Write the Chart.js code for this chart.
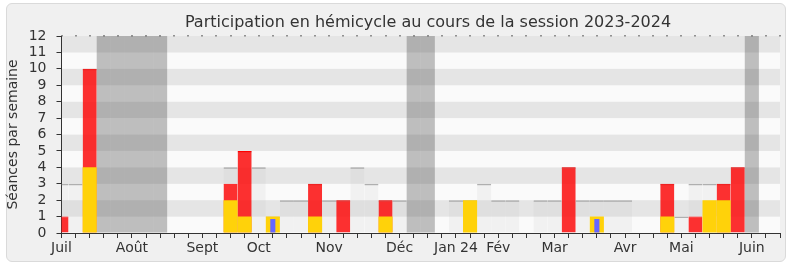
<!DOCTYPE html>
<html><head><meta charset="utf-8">
<script src="https://cdn.jsdelivr.net/npm/chart.js@4/dist/chart.umd.min.js"></script>
<style>
html,body{margin:0;padding:0;background:#fff;}
#wrap{position:relative;width:790px;height:267px;}
#box{position:absolute;left:6px;top:3px;width:778px;height:257px;border:1px solid #dadada;border-radius:6px;background:#f0f0f0;}
canvas{position:absolute;left:0;top:0;}
</style></head><body>
<div id="wrap"><div id="box"></div><canvas id="c" width="790" height="267"></canvas></div>
<script>
// Week labels (52 weeks, July 2023 -> June 2024)
const weekLabels = ['Juil','','','','','Août','','','','','Sept','','','','Oct','','','','','Nov','','','','','Déc','','','','Jan 24','','','Fév','','','','Mar','','','','','Avr','','','','Mai','','','','','Juin','',''];
// Total sessions in the hemicycle per week (light grey)
const totalSessions = [3,3,10,null,null,null,null,null,null,null,null,null,4,5,4,1,2,2,3,2,2,4,3,2,2,null,null,null,2,2,3,2,2,null,2,2,4,2,2,2,2,null,null,3,1,3,3,3,4,null,null,null];
// Presences (red)
const presences = [1,null,10,null,null,null,null,null,null,null,null,null,3,5,null,null,null,null,3,null,2,null,null,2,null,null,null,null,null,null,null,null,null,null,null,null,4,null,null,null,null,null,null,3,null,1,null,3,4,null,null,null];
// Interventions (yellow)
const interventions = [null,null,4,null,null,null,null,null,null,null,null,null,2,1,null,1,null,null,1,null,null,null,null,1,null,null,null,null,null,2,null,null,null,null,null,null,null,null,1,null,null,null,null,1,null,null,2,2,null,null,null,null];
// Questions (blue)
const questions = [null,null,null,null,null,null,null,null,null,null,null,null,null,null,null,0.85,null,null,null,null,null,null,null,null,null,null,null,null,null,null,null,null,null,null,null,null,null,null,0.85,null,null,null,null,null,null,null,null,null,null,null,null,null];
// Parliamentary holidays (dark grey, full height)
const vacances = [null,null,null,12,12,12,12,12,null,null,null,null,null,null,null,null,null,null,null,null,null,null,null,null,null,12,12,null,null,null,null,null,null,null,null,null,null,null,null,null,null,null,null,null,null,null,null,null,null,12,null,null];
const yTicks = [0,1,2,3,4,5,6,7,8,9,10,11,12];

const FONT = 'DejaVu Sans';
const bandsPlugin = {
  id:'bands',
  beforeDraw(chart){
    const {ctx, chartArea:a, scales:{y}} = chart;
    ctx.save();
    for(let i=0;i<yTicks.length-1;i++){
      const y0=y.getPixelForValue(yTicks[i]), y1=y.getPixelForValue(yTicks[i+1]);
      ctx.fillStyle = (i%2===1)?'#e5e5e5':'#fafafa';
      ctx.fillRect(a.left, y1, a.right-a.left, y0-y1);
    }
    ctx.restore();
  }
};
const extrasPlugin = {
  id:'extras',
  afterDraw(chart){
    const {ctx, chartArea:a, scales:{x}} = chart;
    ctx.save();
    ctx.fillStyle='#333';
    for(let i=0;i<x.ticks.length;i++){
      const px=Math.round(x.getPixelForTick(i));
      ctx.fillRect(px-0.5, a.top-1, 1, 1.5);
    }
    ctx.font = '16px "'+FONT+'"';
    ctx.fillStyle='#333';
    ctx.textAlign='center';
    ctx.textBaseline='alphabetic';
    ctx.fillText('Participation en hémicycle au cours de la session 2023-2024', 428, 26.5);
    ctx.restore();
  }
};

const common = {grouped:false, categoryPercentage:1, barPercentage:1, borderSkipped:'start', inflateAmount:0};
new Chart(document.getElementById('c'), {
  type:'bar',
  data:{
    labels: weekLabels,
    datasets:[
      {...common, label:'Questions', data:questions, backgroundColor:'#6666ff', barPercentage:0.36, borderWidth:0},
      {...common, label:'Interventions', data:interventions, backgroundColor:'#ffd20a', borderWidth:0},
      {...common, label:'Présences', data:presences, backgroundColor:'rgba(255,0,0,0.8)', borderColor:'#ff0000', borderWidth:{top:1,left:0,right:0,bottom:0}},
      {...common, label:'Vacances', data:vacances, backgroundColor:'rgba(78,78,78,0.35)', borderWidth:0},
      {...common, label:'Séances', data:totalSessions, backgroundColor:'rgba(185,185,185,0.12)', borderColor:'rgba(150,150,150,0.75)', borderWidth:{top:1.5,left:0,right:0,bottom:0}}
    ]
  },
  options:{
    responsive:false, animation:false,
    layout:{padding:{left:0,right:10,top:36,bottom:0}},
    plugins:{legend:{display:false}, tooltip:{enabled:false}, title:{display:false}},
    scales:{
      x:{type:'category', offset:false,
        grid:{display:true, drawOnChartArea:false, drawTicks:true, tickLength:5, color:'#333', offset:false},
        border:{display:true, color:'#333'},
        ticks:{autoSkip:false, maxRotation:0, minRotation:0, padding:2, color:'#333', font:{family:FONT, size:14}},
        afterFit(s){ s.height = 34; }
      },
      y:{min:0, max:12,
        afterBuildTicks(s){ s.ticks = yTicks.map(v=>({value:v})); },
        grid:{drawOnChartArea:false, drawTicks:true, tickLength:5, color:'#333'},
        border:{display:true, color:'#333'},
        ticks:{autoSkip:false, padding:10, color:'#333', font:{family:FONT, size:14}},
        title:{display:true, text:'Séances par semaine', color:'#333', font:{family:FONT, size:14}, padding:{top:5,bottom:0}},
        afterFit(s){ s.width = 61.5; }
      }
    }
  },
  plugins:[bandsPlugin, extrasPlugin]
});
</script>
</body></html>
